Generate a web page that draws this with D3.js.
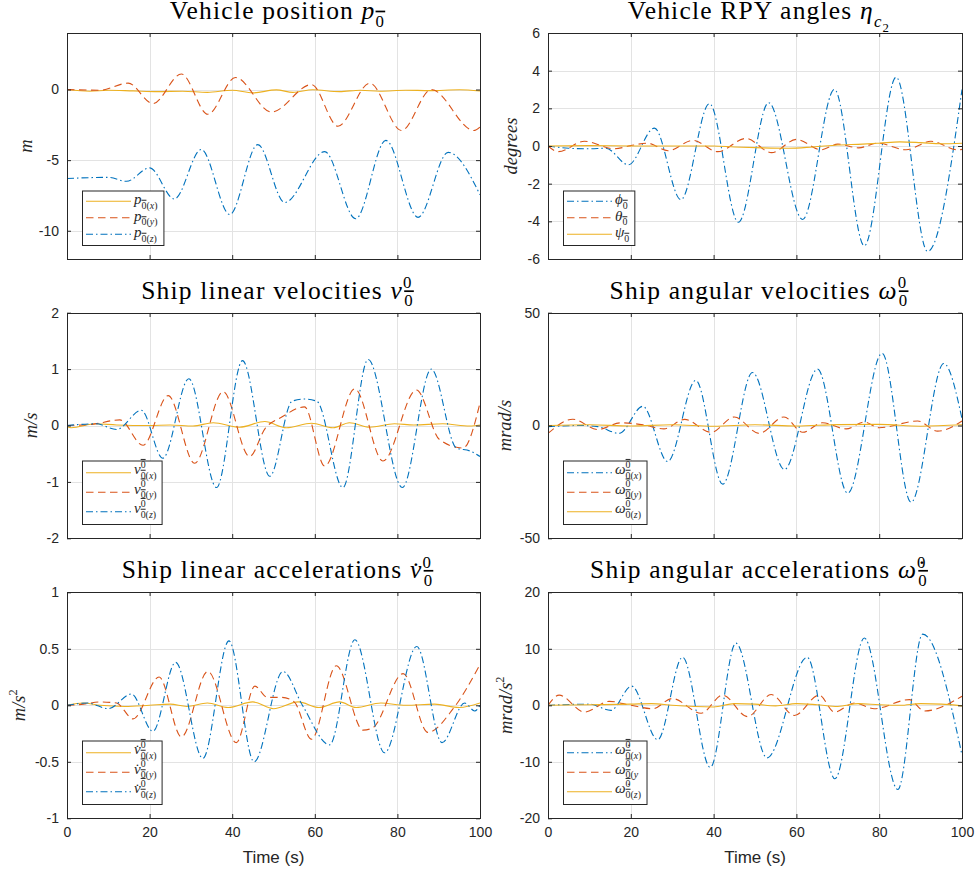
<!DOCTYPE html>
<html>
<head>
<meta charset="utf-8">
<script src="https://cdn.jsdelivr.net/npm/d3@7"></script>
<style>
body{margin:0;background:#fff}
svg{display:block}
</style>
</head>
<body>
<svg id="chart" width="978" height="877"></svg>
<script>
// x axis (time in seconds)
const time_ticks = [0, 20, 40, 60, 80, 100]

// vehicle position p (m) -- [time, value]
const pos_x = [[0,0],[1,-0.04],[5.5,-0.12],[10,-0.05],[16,-0.1],[22,-0.15],[28,-0.12],[34,-0.2],[40,-0.05],[45,-0.24],[50.7,-0.03],[54.7,-0.2],[59.5,-0.02],[66,-0.15],[71,-0.05],[75.7,-0.12],[82,-0.05],[87.8,-0.08],[95,-0.02],[100,-0.1]]
const pos_y = [[0,0],[8,-0.05],[14.8,0.45],[20.8,-1.0],[27.7,1.1],[34.1,-1.75],[40.8,0.85],[49.5,-1.6],[59.2,0.35],[65.6,-2.6],[73.3,0.45],[81,-2.9],[88.2,0],[98.5,-2.9],[100,-2.65]]
const pos_z = [[0,-6.3],[10,-6.22],[14.4,-6.5],[20,-5.55],[26,-7.75],[32.5,-4.25],[39.4,-8.85],[46.2,-3.9],[52.7,-8.0],[62.4,-4.4],[69.9,-9.15],[77.2,-3.6],[85,-9.05],[92.3,-4.45],[100,-7.45]]
const pos_ticks = [-10, -5, 0]

// RPY angles (degrees)
const rpy_phi = [[0,0],[5,-0.12],[10,-0.15],[14,-0.12],[19.4,-1.0],[25.7,0.95],[32.1,-2.85],[39,2.25],[46,-4.05],[53.3,2.3],[61.5,-3.9],[69.2,3.0],[76.4,-5.3],[84.1,3.65],[91.7,-5.6],[100,3.0]]
const rpy_theta = [[0,0],[2.5,-0.3],[8.8,0.25],[16,-0.15],[20,0.02],[24,0.15],[29,-0.25],[35,0.3],[41,-0.3],[47.8,0.4],[54,-0.35],[60,0.35],[66,-0.2],[70,0.1],[75,-0.1],[79.6,0.15],[86.5,-0.2],[92.5,0.25],[99,-0.2],[100,-0.18]]
const rpy_psi = [[0,0],[10,0.02],[20,0],[30,0],[40,0],[45,-0.05],[52,-0.1],[58,-0.12],[64,-0.05],[70,0.05],[76,0.1],[80,0.15],[85,0.22],[90,0.18],[95,0.12],[100,0.15]]
const rpy_ticks = [-6, -4, -2, 0, 2, 4, 6]

// ship linear velocities (m/s)
const vel_x = [[0,-0.02],[1,-0.04],[7,0.03],[12,0.01],[20,0],[25,0.01],[30.5,-0.01],[35.4,0.05],[41.8,-0.03],[47.9,0.07],[53.1,-0.04],[59.2,0.04],[64.4,-0.04],[68.4,0.05],[73.3,-0.03],[79.3,0.03],[84,0.01],[91,0.03],[97.5,-0.01],[100,0.01]]
const vel_y = [[0,0],[6,0.02],[12.8,0.1],[18.4,-0.35],[24.5,0.53],[30.9,-0.67],[37.8,0.6],[44.2,-0.55],[48,-0.05],[52,0.15],[57.5,0.33],[62.4,-0.72],[69.7,0.65],[76.5,-0.63],[84.6,0.63],[90.2,-0.25],[95.9,-0.4],[100,0.4]]
const vel_z = [[0,0],[7,0.03],[12,-0.07],[18,0.27],[23.2,-0.58],[29.5,0.83],[36.2,-1.1],[42.5,1.15],[49.1,-0.9],[54.5,0.43],[57.5,0.47],[60.5,0.43],[66.8,-1.1],[72.9,1.17],[81.2,-1.1],[88.2,1.0],[94.3,-0.4],[97.5,-0.45],[100,-0.55]]
const vel_ticks = [-2, -1, 0, 1, 2]

// ship angular velocities (mrad/s)
const angv_x = [[0,-0.5],[8,0],[12,-0.5],[17.2,-3.5],[22.9,8.5],[28.9,-16],[35.7,20],[42.2,-26],[49.4,23.5],[57.1,-19.5],[65.1,25],[72.4,-30],[80.7,32],[87.7,-34],[95.6,27.5],[100,3]]
const angv_y = [[0,-3.5],[6,2.8],[12,-1.8],[17.6,1.2],[23,0.3],[28,-1.5],[33,2.7],[39.4,-3],[45,3.8],[51,-3.5],[57,3.8],[61.5,-3],[66.3,1.2],[72,-1.5],[76.4,1.5],[80,-1],[89.3,2],[94.1,-2.5],[100,2]]
const angv_z = [[0,0],[10,0.3],[20,-0.2],[30,0.3],[40,-0.3],[50,0.3],[60,-0.2],[70,0.4],[80,0.5],[90,-0.3],[100,0.3]]
const angv_ticks = [-50, 0, 50]

// ship linear accelerations (m/s^2)
const acc_x = [[0,0],[4,0.02],[8,0],[14,-0.01],[20,0],[25,0.01],[29,-0.01],[34,0.02],[39,-0.02],[45,0.03],[50,-0.03],[56,0.03],[61,-0.02],[66,0.03],[70,-0.02],[76,0.02],[82,0],[89,0.01],[95,-0.02],[100,0.02]]
const acc_y = [[0,0],[4,0.01],[8,0.03],[12,0.02],[16,-0.12],[22.3,0.25],[27.7,-0.28],[34.1,0.3],[41,-0.33],[45.5,0.17],[48.5,0.07],[52,0.07],[55,0.03],[59.2,-0.3],[65.2,0.35],[71.7,-0.22],[74,-0.2],[81.4,0.28],[87.4,-0.24],[93.5,-0.03],[100,0.36]]
const acc_z = [[0,0],[5,0.02],[10,-0.03],[15.6,0.1],[20.8,-0.23],[26.3,0.38],[32.9,-0.47],[39.2,0.57],[45.3,-0.5],[52.3,0.3],[57,0],[63.6,-0.35],[69.7,0.58],[76.9,-0.42],[84.7,0.52],[90.8,-0.33],[96.3,0.02],[98.7,-0.05],[100,0]]
const acc_ticks = [-1, -0.5, 0, 0.5, 1]

// ship angular accelerations (mrad/s^2)
const anga_x = [[0,0],[10,0.2],[15.2,-0.9],[20.2,3.4],[26.5,-6.1],[32.5,8.5],[39.2,-11],[45.4,11],[52.9,-9.3],[62.6,8.5],[69.3,-13],[76.4,11.9],[84.5,-14.9],[90.5,12.6],[100,-8.8]]
const anga_y = [[0,0],[2.7,1.8],[8.8,-1.2],[14.8,0.7],[20,0],[25.3,-0.6],[30,1.2],[37,-1.4],[42.2,1.8],[48.2,-2],[53.9,1.9],[59.5,-1.8],[65.5,1.8],[69.2,-1.2],[74,0.4],[78.8,-0.6],[87.3,1],[90.9,-1],[100,1.6]]
const anga_z = [[0,0],[10,0.1],[20,0.2],[25,0.3],[30,0],[40,-0.3],[45,0.3],[50,0.2],[55,-0.1],[60,0.3],[65,0.1],[70,-0.2],[75,0.3],[80,0.1],[85,0],[90,0.3],[95,0.2],[100,-0.1]]
const anga_ticks = [-20, -10, 0, 10, 20]

// styles
const blue = '#0072BD', orange = '#D95319', yellow = '#EDB120'
const solid = null, dashed = '7.5,4.5', dashdot = '7,3,1.5,3'
const ink = '#262626'
const serif = '"Liberation Serif", "Times New Roman", serif'
const sans = '"Liberation Sans", Arial, Helvetica, sans-serif'

// legend label pieces: base letter, dot accent, superscript 0-bar, subscript 0-bar(axis)
function lbl(base, dot, sup, axis, noClose) {
	let parts = [{s: base + (dot ? '\u0307' : ''), i: 1}]
	if (sup) parts.push({s: '0', sup: 1, o: 1})
	parts.push({s: '0', sub: 1, o: 1, back: sup ? 1 : 0})
	if (axis) {
		parts.push({s: '(', sub: 1})
		parts.push({s: axis, sub: 1, i: 1})
		if (!noClose) parts.push({s: ')', sub: 1})
	}
	return parts
}

let svg = d3.select('#chart')
const cols = [[67, 480], [548, 962]]
const rows = [[33, 259], [312.7, 538.3], [592.3, 818.3]]

let panels = [
	{col: 0, row: 0, domain: [-12, 4], ticks: pos_ticks, ylabelX: 32,
		title: [{s: 'Vehicle position '}, {s: 'p', i: 1}, {s: '0', sub: 1, o: 1}],
		ylabel: [{s: 'm', i: 1}],
		series: [
			{data: pos_x, color: yellow, dash: solid, label: lbl('p', 0, 0, 'x')},
			{data: pos_y, color: orange, dash: dashed, label: lbl('p', 0, 0, 'y')},
			{data: pos_z, color: blue, dash: dashdot, label: lbl('p', 0, 0, 'z')}
		]},
	{col: 1, row: 0, domain: [-6, 6], ticks: rpy_ticks, ylabelX: 517,
		title: [{s: 'Vehicle RPY angles '}, {s: 'η', i: 1}, {s: 'c', sub: 1, i: 1}, {s: '2', subsub: 1}],
		ylabel: [{s: 'degrees', i: 1}],
		series: [
			{data: rpy_phi, color: blue, dash: dashdot, label: lbl('ϕ', 0, 0, null)},
			{data: rpy_theta, color: orange, dash: dashed, label: lbl('θ', 0, 0, null)},
			{data: rpy_psi, color: yellow, dash: solid, label: lbl('ψ', 0, 0, null)}
		]},
	{col: 0, row: 1, domain: [-2, 2], ticks: vel_ticks, ylabelX: 37,
		title: [{s: 'Ship linear velocities '}, {s: 'v', i: 1}, {s: '0', sup: 1}, {s: '0', sub: 1, o: 1, back: 1}],
		ylabel: [{s: 'm/s', i: 1}],
		series: [
			{data: vel_x, color: yellow, dash: solid, label: lbl('v', 0, 1, 'x')},
			{data: vel_y, color: orange, dash: dashed, label: lbl('v', 0, 1, 'y')},
			{data: vel_z, color: blue, dash: dashdot, label: lbl('v', 0, 1, 'z')}
		]},
	{col: 1, row: 1, domain: [-50, 50], ticks: angv_ticks, ylabelX: 511,
		title: [{s: 'Ship angular velocities '}, {s: 'ω', i: 1}, {s: '0', sup: 1}, {s: '0', sub: 1, o: 1, back: 1}],
		ylabel: [{s: 'mrad/s', i: 1}],
		series: [
			{data: angv_x, color: blue, dash: dashdot, label: lbl('ω', 0, 1, 'x')},
			{data: angv_y, color: orange, dash: dashed, label: lbl('ω', 0, 1, 'y')},
			{data: angv_z, color: yellow, dash: solid, label: lbl('ω', 0, 1, 'z')}
		]},
	{col: 0, row: 2, domain: [-1, 1], ticks: acc_ticks, ylabelX: 25,
		title: [{s: 'Ship linear accelerations '}, {s: 'v\u0307', i: 1}, {s: '0', sup: 1}, {s: '0', sub: 1, o: 1, back: 1}],
		ylabel: [{s: 'm/s', i: 1}, {s: '2', sup: 1}],
		series: [
			{data: acc_x, color: yellow, dash: solid, label: lbl('v', 1, 1, 'x')},
			{data: acc_y, color: orange, dash: dashed, label: lbl('v', 1, 1, 'y')},
			{data: acc_z, color: blue, dash: dashdot, label: lbl('v', 1, 1, 'z')}
		]},
	{col: 1, row: 2, domain: [-20, 20], ticks: anga_ticks, ylabelX: 512,
		title: [{s: 'Ship angular accelerations '}, {s: 'ω\u0307', i: 1}, {s: '0', sup: 1}, {s: '0', sub: 1, o: 1, back: 1}],
		ylabel: [{s: 'mrad/s', i: 1}, {s: '2', sup: 1}],
		series: [
			{data: anga_x, color: blue, dash: dashdot, label: lbl('ω', 1, 1, 'x')},
			// the original label really lacks the closing bracket
			{data: anga_y, color: orange, dash: dashed, label: lbl('ω', 1, 1, 'y', true)},
			{data: anga_z, color: yellow, dash: solid, label: lbl('ω', 1, 1, 'z')}
		]}
]

// writes text made of pieces (italic / sub / sup / overline), relative shifts only
function rich(g, parts, x, y, size, anchor) {
	let text = g.append('text')
		.attr('x', x).attr('y', y)
		.attr('font-size', size)
		.attr('text-anchor', anchor || 'start')
	let prevW = 0, cur = 0
	parts.forEach(function(p) {
		let shift = 0, sz = size
		if (p.sub) { shift = 0.3 * size; sz = 0.66 * size }
		if (p.sup) { shift = -0.42 * size; sz = 0.66 * size }
		if (p.subsub) { shift = 0.5 * size; sz = 0.5 * size }
		let ts = text.append('tspan').attr('dy', shift - cur).attr('font-size', sz).text(p.s)
		cur = shift
		if (p.i) ts.attr('font-style', 'italic')
		if (p.o) ts.style('text-decoration', 'overline')
		if (p.back) ts.attr('dx', -prevW)
		prevW = ts.node().getComputedTextLength()
	})
	return text
}

panels.forEach(function(p, k) {
	let x0 = cols[p.col][0], x1 = cols[p.col][1]
	let y0 = rows[p.row][0], y1 = rows[p.row][1]
	let x = d3.scaleLinear().domain([0, 100]).range([x0, x1])
	let y = d3.scaleLinear().domain(p.domain).range([y1, y0])
	let g = svg.append('g')

	// grid
	g.selectAll('.gx').data(time_ticks).enter().append('line')
		.attr('x1', d => Math.round(x(d)) + 0.5).attr('x2', d => Math.round(x(d)) + 0.5)
		.attr('y1', y0).attr('y2', y1)
		.attr('stroke', '#e3e3e3')
	g.selectAll('.gy').data(p.ticks).enter().append('line')
		.attr('x1', x0).attr('x2', x1)
		.attr('y1', d => Math.round(y(d)) + 0.5).attr('y2', d => Math.round(y(d)) + 0.5)
		.attr('stroke', '#e3e3e3')

	// data lines, clipped to the box
	g.append('clipPath').attr('id', 'clip' + k)
		.append('rect').attr('x', x0).attr('y', y0).attr('width', x1 - x0).attr('height', y1 - y0)
	let line = d3.line().x(d => x(d[0])).y(d => y(d[1])).curve(d3.curveMonotoneX)
	p.series.forEach(function(s) {
		g.append('path')
			.attr('d', line(s.data))
			.attr('fill', 'none')
			.attr('stroke', s.color)
			.attr('stroke-width', 1.1)
			.attr('stroke-dasharray', s.dash)
			.attr('clip-path', 'url(#clip' + k + ')')
	})

	// box + inward ticks on all sides
	g.append('rect')
		.attr('x', Math.round(x0) + 0.5).attr('y', Math.round(y0) + 0.5)
		.attr('width', Math.round(x1) - Math.round(x0)).attr('height', Math.round(y1) - Math.round(y0))
		.attr('fill', 'none').attr('stroke', ink)
	let axB = d3.axisBottom(x).tickValues(time_ticks).tickSize(-4).tickPadding(9)
		.tickFormat(p.row == 2 ? d3.format('d') : '')
	let axT = d3.axisTop(x).tickValues(time_ticks).tickSize(-4).tickFormat('')
	let axL = d3.axisLeft(y).tickValues(p.ticks).tickSize(-4).tickPadding(8).tickFormat(d => String(d))
	let axR = d3.axisRight(y).tickValues(p.ticks).tickSize(-4).tickFormat('')
	;[[axB, 'translate(0,' + Math.round(y1) + ')'], [axT, 'translate(0,' + Math.round(y0) + ')'],
	  [axL, 'translate(' + Math.round(x0) + ',0)'], [axR, 'translate(' + Math.round(x1) + ',0)']].forEach(function(a) {
		let ag = g.append('g').attr('transform', a[1]).call(a[0])
		ag.select('.domain').remove()
		ag.selectAll('line').attr('stroke', ink)
		ag.selectAll('text').attr('fill', ink).attr('font-family', sans).attr('font-size', 14)
	})

	// title
	rich(g, p.title, (x0 + x1) / 2 + 4, y0 - 14, 25.5, 'middle')
		.attr('font-family', serif).attr('fill', '#000').attr('letter-spacing', 1.2)

	// y label
	let yl = rich(g.append('g').attr('transform', 'translate(' + p.ylabelX + ',' + ((y0 + y1) / 2) + ') rotate(-90)'),
		p.ylabel, 0, 0, 18.5, 'middle')
	yl.attr('font-family', serif).attr('fill', ink)

	// x label on bottom row
	if (p.row == 2) {
		g.append('text').attr('x', (x0 + x1) / 2).attr('y', 863)
			.attr('text-anchor', 'middle').attr('font-family', sans).attr('font-size', 17)
			.attr('fill', ink).text('Time (s)')
	}

	// legend, lower left
	let hasSup = p.series[0].label.some(d => d.sup)
	let rowH = hasSup ? 19.5 : 16.5
	let bh = rowH * 3 + 5
	let lx = Math.round(x0) + 15, ly = Math.round(y1) - 14 - bh
	let lg = g.append('g')
	let box = lg.append('rect').attr('x', lx + 0.5).attr('y', ly + 0.5).attr('height', bh)
		.attr('fill', '#fff').attr('stroke', ink)
	let maxW = 0
	p.series.forEach(function(s, i) {
		let cy = ly + 2.5 + rowH * (i + 0.5)
		lg.append('line').attr('x1', lx + 4).attr('x2', lx + 49).attr('y1', cy).attr('y2', cy)
			.attr('stroke', s.color).attr('stroke-width', 1.1).attr('stroke-dasharray', s.dash)
		let t = rich(lg, s.label, lx + 52, cy + (hasSup ? 1.5 : 3), 15, 'start').attr('font-family', serif).attr('fill', ink)
		maxW = Math.max(maxW, t.node().getBBox().width)
	})
	box.attr('width', 52 + maxW + 5)
})
</script>
</body>
</html>
